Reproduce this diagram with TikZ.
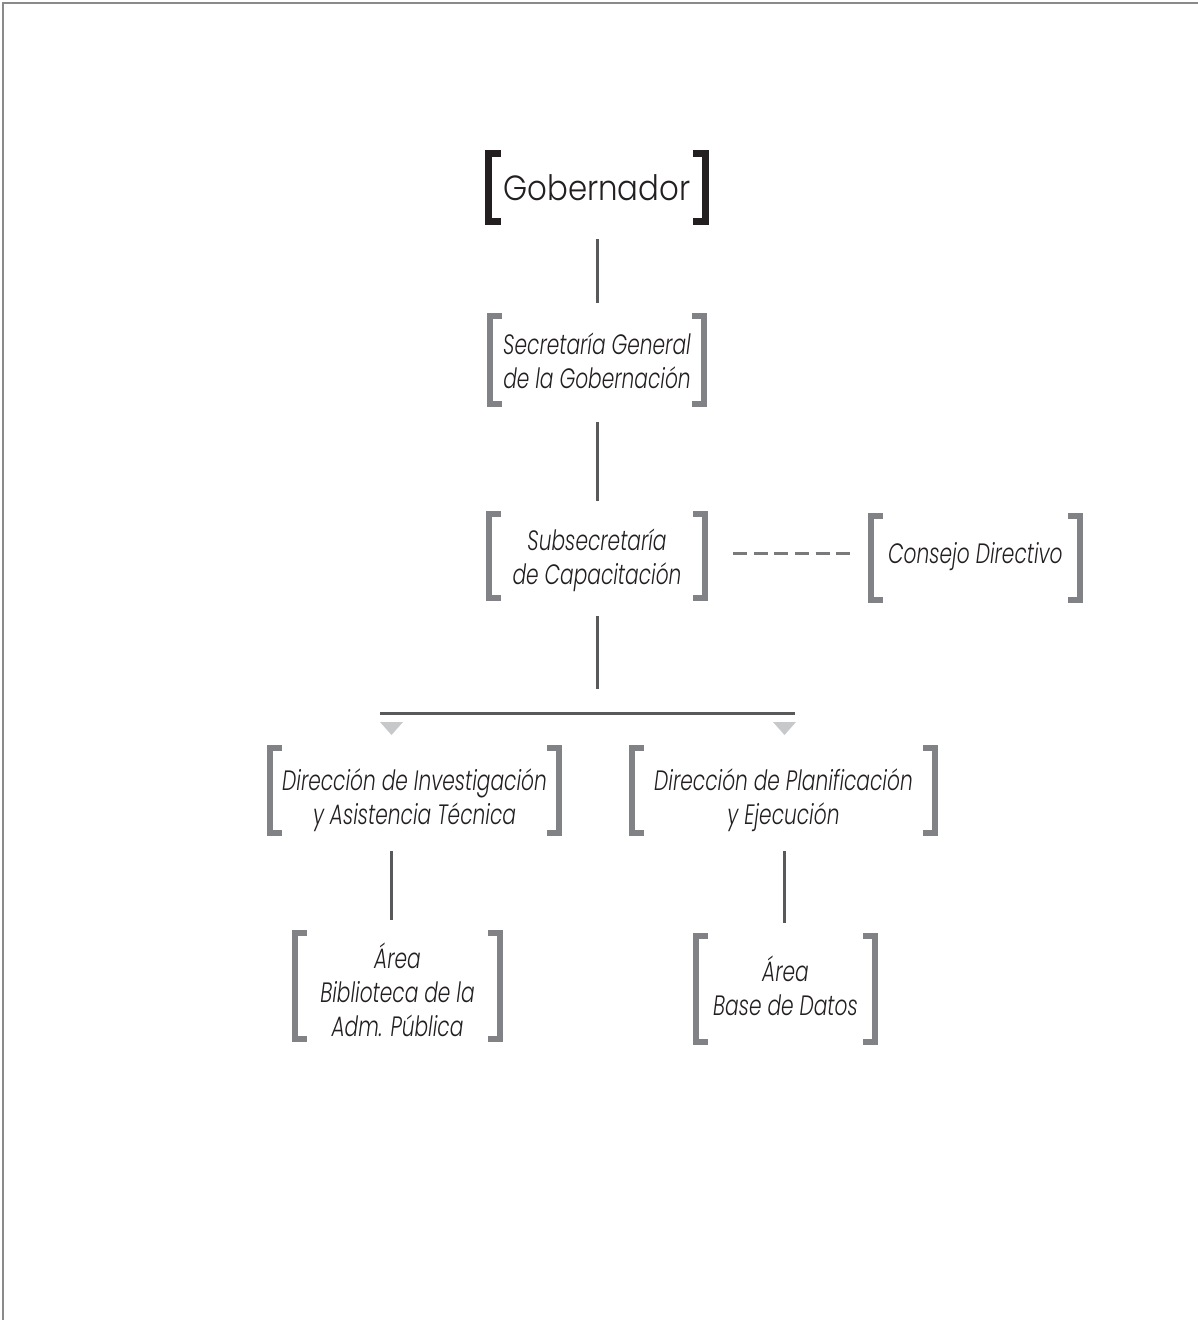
\documentclass[tikz,border=0pt]{standalone}
\usepackage{fontspec}
\setmainfont{Poppins}[UprightFont=* Light, ItalicFont=* Light Italic, FakeStretch=0.72]
\newfontfamily\titlefont{Poppins}[UprightFont=* Light, FakeStretch=0.88]
\usepackage{xcolor}
\usetikzlibrary{positioning}
\definecolor{ink}{HTML}{231F20}
\definecolor{brace}{HTML}{808285}
\definecolor{wire}{HTML}{58595B}
\definecolor{tipfill}{HTML}{C7C8CA}
\definecolor{frame}{HTML}{8A8A8A}

% square brackets round a named node
\newcommand{\brackets}[2][brk]{%
  \draw[#1] ([xshift=12pt]#2.north west) -- (#2.north west) -- (#2.south west) -- ([xshift=12pt]#2.south west);
  \draw[#1] ([xshift=-12pt]#2.north east) -- (#2.north east) -- (#2.south east) -- ([xshift=-12pt]#2.south east);}

\begin{document}
\begin{tikzpicture}[
    x=1pt, y=-1pt,
    unit/.style={text=ink, align=center, inner sep=0pt,
                 font=\fontsize{28}{34}\selectfont\itshape},
    slot/.style={inner sep=0pt},
    head/.style={text=ink, inner sep=0pt, font=\titlefont\fontsize{35}{40}\selectfont},
    brk/.style={brace, line width=6pt, line join=miter},
    headbrk/.style={ink, line width=7pt, line join=miter},
    link/.style={wire, line width=3pt, shorten <=18pt, shorten >=13pt},
    aux/.style={wire!80, line width=3pt, dash pattern=on 14pt off 6.6pt}
  ]
    \useasboundingbox (0,0) rectangle (1198,1320);
    \draw[frame, line width=2pt] (3,1320) -- (3,3) -- (1198,3);

    \node[head, minimum width=216pt, minimum height=67pt] (gob) at (597,187.5) {Gobernador};
    \node[slot, minimum width=214pt, minimum height=87pt, below=95pt of gob,
          label={[unit, yshift=-1pt]center:{Secretaría General\\de la Gobernación}}] (sec) {};
    \node[slot, minimum width=216pt, minimum height=84pt, below=110pt of sec,
          label={[unit, yshift=-5pt]center:{Subsecretaría\\de Capacitación}}] (sub) {};
    \node[slot, minimum width=208pt, minimum height=84pt, right=166pt of sub, yshift=-2pt,
          label={[unit, yshift=1pt]center:{Consejo Directivo}}] (cons) {};
    \node[slot, minimum width=289pt, minimum height=85pt,
          label={[unit, yshift=-10pt]center:{Dirección de Investigación\\y Asistencia Técnica}}] (inv) at (414.5,790.5) {};
    \node[slot, minimum width=303pt, minimum height=85pt,
          label={[unit, yshift=-10pt]center:{Dirección de Planificación\\y Ejecución}}] (plan) at (783.5,790.5) {};
    \node[slot, minimum width=205pt, minimum height=106pt,
          label={[unit, yshift=-4pt]center:{Área\\Biblioteca de la\\Adm. Pública}}] (bib) at (397.5,986) {};
    \node[slot, minimum width=179pt, minimum height=106pt,
          label={[unit, yshift=3pt]center:{Área\\Base de Datos}}] (base) at (785.5,989) {};

    \brackets[headbrk]{gob}
    \brackets{sec}
    \brackets{sub}
    \brackets{cons}
    \brackets{inv}
    \brackets{plan}
    \brackets{bib}
    \brackets{base}

    \coordinate (busl) at (380,713);
    \coordinate (busr) at (795,713);
    \coordinate (tipl) at (391.5,735);
    \coordinate (tipr) at (784.5,735);

    \draw[link] (gob) -- (sec);
    \draw[link] (sec) -- (sub);
    \draw[link, shorten >=24pt] (sub) -- (sub |- busl);
    \draw[wire, line width=3pt] (busl) -- (busr);
    \fill[tipfill] (tipl) -- ++(-11.5,-13) -- ++(23,0) -- cycle;
    \fill[tipfill] (tipr) -- ++(-11.5,-13) -- ++(23,0) -- cycle;
    \draw[aux, shorten <=28pt, shorten >=21pt] (sub.east |- 0,553) -- (cons.west |- 0,553);
    \draw[link] (tipl |- inv.south) -- (tipl |- bib.north);
    \draw[link] (tipr |- plan.south) -- (tipr |- base.north);
  \end{tikzpicture}
\end{document}
